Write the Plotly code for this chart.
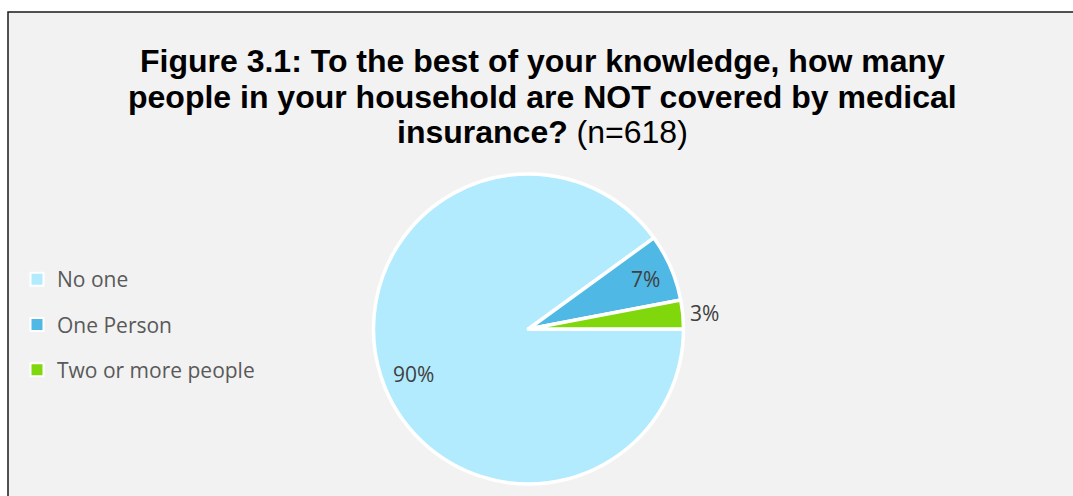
import math
import plotly.graph_objects as go

# Survey responses (share of households, %)
categories = ["No one", "One Person", "Two or more people"]
shares = [90, 7, 3]
slice_colors = ["#B3EBFE", "#4FB8E4", "#80D70C"]
sample_size = 618

W, H = 1073, 496

def px(x):
    return x / W

def py(y):
    return 1 - y / H

# Pie geometry (pixels)
cx, cy, radius = 528.5, 329.0, 155.0
label_radius = [0.80, 0.81, 1.13]   # label distance as fraction of radius
label_nudge = [(3, -7), (2, 0), (2, 0)]  # fine pixel offsets (x, y up)

fig = go.Figure()

fig.add_trace(go.Pie(
    labels=categories,
    values=shares,
    sort=False,
    direction="clockwise",
    rotation=90,
    marker=dict(colors=slice_colors, line=dict(color="white", width=3.5)),
    textinfo="none",
    hoverinfo="label+percent",
    showlegend=False,
    domain=dict(x=[px(cx - radius), px(cx + radius)],
                y=[py(cy + radius), py(cy - radius)]),
))

# Legend entries, one group per category so the rows can be spaced out
for name, col in zip(categories, slice_colors):
    fig.add_trace(go.Scatter(
        x=[None], y=[None], mode="markers", name=name, legendgroup=name,
        marker=dict(symbol="square", size=13, color=col,
                    line=dict(color="white", width=2)),
    ))

# Percentage labels placed along each slice's mid-angle
total = sum(shares)
cum = 0
for val, frac, (nx, ny) in zip(shares, label_radius, label_nudge):
    mid = (cum + val / 2) / total * 360.0  # degrees clockwise from 3 o'clock
    cum += val
    ang = math.radians(mid)
    lx = cx + frac * radius * math.cos(ang)
    ly = cy + frac * radius * math.sin(ang)
    fig.add_annotation(
        x=px(lx), y=py(ly), xref="paper", yref="paper",
        xshift=nx, yshift=ny,
        text=f"{round(val / total * 100)}%", showarrow=False,
        xanchor="center", yanchor="middle",
        font=dict(family="Open Sans", size=21, color="#404040"),
    )

# Title, one annotation per line
title_lines = [
    "<b>Figure 3.1: To the best of your knowledge, how many</b>",
    "<b>people in your household are NOT covered by medical</b>",
    f"<b>insurance?</b> (n={sample_size})",
]
for i, line in enumerate(title_lines):
    fig.add_annotation(
        x=px(542), y=py(61 + 35.7 * i), xref="paper", yref="paper",
        text=line, showarrow=False, xanchor="center", yanchor="middle",
        font=dict(family="Liberation Sans, Arial", size=32, color="#000000"),
    )

# Chart area background with frame
fig.add_shape(
    type="rect", xref="paper", yref="paper",
    x0=px(8), x1=1.02, y0=-0.02, y1=py(12),
    fillcolor="#F2F2F2", line=dict(color="#1a1a1a", width=1.5), layer="below",
)

fig.update_layout(
    width=W, height=H,
    margin=dict(l=0, r=0, t=0, b=0),
    paper_bgcolor="white",
    plot_bgcolor="rgba(0,0,0,0)",
    xaxis=dict(visible=False),
    yaxis=dict(visible=False),
    showlegend=True,
    legend=dict(
        x=px(17), y=py(259), xanchor="left", yanchor="top",
        traceorder="grouped", tracegroupgap=15,
        bgcolor="rgba(0,0,0,0)", borderwidth=0,
        font=dict(family="Open Sans", size=21, color="#595959"),
    ),
)

fig.write_html("out.html")
